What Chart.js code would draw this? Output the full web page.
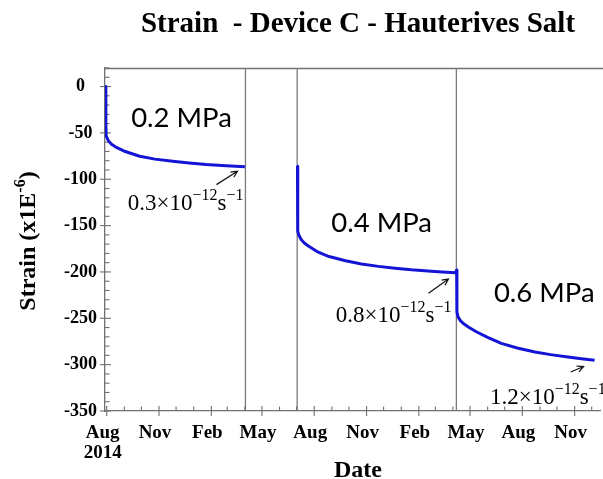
<!DOCTYPE html>
<html>
<head>
<meta charset="utf-8">
<title>Strain - Device C - Hauterives Salt</title>
<script src="https://cdn.jsdelivr.net/npm/chart.js@4.4.1/dist/chart.umd.min.js"></script>
<style>
    html, body { margin: 0; padding: 0; background: #ffffff; }
    #wrap { position: relative; width: 603px; height: 479px; }
</style>
</head>
<body>
<div id="wrap"><canvas id="strainChart"></canvas></div>
<script>
/* ---------------------------------------------------
   Creep strain record - Device C - Hauterives salt
   x values are days since 1 Aug 2014
---------------------------------------------------*/

// measured strain (x1E-6); null breaks the line while the device was unloaded
const elapsedDays = [
    -2, -1.5, -1, 1, 3, 8, 17, 30, 58, 85, 116, 145, 175, 210, 243,
    290,
    335.5, 336, 338, 342, 348, 356, 370, 391, 420, 448, 478, 507, 536, 565, 590, 614, 615.5,
    616, 618, 622, 628, 636, 650, 670, 694, 722, 753, 781, 811, 835, 858
];
const strainValues = [
    0, -40, -53, -56, -58.5, -62, -65.7, -69.5, -75.2, -78.3, -80.6, -82.5, -84.1, -85.4, -86.6,
    null,
    -86, -156, -160.5, -165, -169, -172.6, -178, -183.4, -188, -191.4, -194, -196, -197.7, -199, -200, -200.8, -198,
    -243, -248.5, -252.5, -256, -259.3, -264.5, -270.5, -277, -282, -286.3, -289.2, -291.7, -293.6, -295.3
];

// days at which the load was changed
const loadChangeDays = [244, 335, 615];

// stress levels and steady-state strain rates for each stage
const stressLabels = ["0.2 MPa", "0.4 MPa", "0.6 MPa"];
const rateMantissas = ["0.3", "0.8", "1.2"];

// x axis ticks
const tickDates = ["2014-08-01", "2014-11-01", "2015-02-01", "2015-05-01", "2015-08-01",
                   "2015-11-01", "2016-02-01", "2016-05-01", "2016-08-01", "2016-11-01"];
const tickLabels = [["Aug", "2014"], "Nov", "Feb", "May", "Aug", "Nov", "Feb", "May", "Aug", "Nov"];

// y axis ticks
const strainTicks = [0, -50, -100, -150, -200, -250, -300, -350];


/* ---------------------------------------------------
   Helpers
---------------------------------------------------*/

const DAY0 = Date.UTC(2014, 7, 1);

function daysSinceStart(dateStr) {
    const p = dateStr.split("-").map(Number);
    return Math.round((Date.UTC(p[0], p[1] - 1, p[2]) - DAY0) / 86400000);
}

const tickDays = tickDates.map(daysSinceStart);

// first day of every month on the axis, for the small ticks
let monthDays = [];
for (let m = 0; m <= 28; m++) {
    monthDays.push(Math.round((Date.UTC(2014, 7 + m, 1) - DAY0) / 86400000));
}

const SERIF = "'Liberation Serif', 'Times New Roman', serif";
const SANS = "Lato, 'Open Sans', sans-serif";
const AXIS_GREY = "#707070";

// draws text pieces left to right, raising the ones marked sup
function drawPieces(ctx, pieces, x, y, size, supSize, weight) {
    let cx = x;
    pieces.forEach(p => {
        ctx.font = weight + " " + (p.sup ? supSize : size) + "px " + SERIF;
        ctx.fillText(p.text, cx, p.sup ? y - size * 0.42 : y);
        cx += ctx.measureText(p.text).width;
    });
    return cx - x;
}

function measurePieces(ctx, pieces, size, supSize, weight) {
    let w = 0;
    pieces.forEach(p => {
        ctx.font = weight + " " + (p.sup ? supSize : size) + "px " + SERIF;
        w += ctx.measureText(p.text).width;
    });
    return w;
}

function drawArrow(ctx, x1, y1, x2, y2) {
    const a = Math.atan2(y2 - y1, x2 - x1);
    const head = 7;
    ctx.beginPath();
    ctx.moveTo(x1, y1);
    ctx.lineTo(x2, y2);
    ctx.moveTo(x2 - head * Math.cos(a - 0.45), y2 - head * Math.sin(a - 0.45));
    ctx.lineTo(x2, y2);
    ctx.lineTo(x2 - head * Math.cos(a + 0.45), y2 - head * Math.sin(a + 0.45));
    ctx.stroke();
}


/* ---------------------------------------------------
   Frame, load-change lines, tick marks and notes
---------------------------------------------------*/

// note anchors in data units (day, strain)
const stressNotes = [[43, -44], [395, -156.4], [681, -232]];
const rateNotes = [[37, -133], [403, -254], [674, -342]];
const rateArrows = [[193, -105.8, 230, -91.4], [566, -223, 601, -207.6], [816, -308, 838.7, -302]];

const strainDecor = {
    id: "strainDecor",

    beforeDatasetsDraw(chart) {
        const ctx = chart.ctx;
        const area = chart.chartArea;
        const xs = chart.scales.x;
        const ys = chart.scales.y;

        ctx.save();
        ctx.strokeStyle = AXIS_GREY;
        ctx.lineWidth = 1.3;

        // top edge of the frame
        ctx.beginPath();
        ctx.moveTo(area.left, area.top + 0.5);
        ctx.lineTo(chart.width, area.top + 0.5);
        ctx.stroke();

        // load changes
        ctx.strokeStyle = "#7a7a7a";
        loadChangeDays.forEach(d => {
            const px = xs.getPixelForValue(d);
            ctx.beginPath();
            ctx.moveTo(px, area.top);
            ctx.lineTo(px, area.bottom);
            ctx.stroke();
        });

        // y ticks: every 10 small, every 50 crossing the axis
        ctx.strokeStyle = AXIS_GREY;
        ctx.lineWidth = 1.1;
        for (let v = -350; v <= 20; v += 10) {
            const py = ys.getPixelForValue(v);
            const major = v % 50 === 0;
            ctx.beginPath();
            ctx.moveTo(area.left - (major ? 5 : 0), py);
            ctx.lineTo(area.left + (major ? 6 : 4.5), py);
            ctx.stroke();
        }

        // x ticks: every month small, every quarter crossing the axis
        monthDays.forEach(d => {
            const px = xs.getPixelForValue(d);
            if (px > chart.width) return;
            const major = tickDays.includes(d);
            ctx.beginPath();
            ctx.moveTo(px, area.bottom + (major ? 5 : 0));
            ctx.lineTo(px, area.bottom - (major ? 5 : 4.5));
            ctx.stroke();
        });

        ctx.restore();
    },

    afterDatasetsDraw(chart) {
        const ctx = chart.ctx;
        const xs = chart.scales.x;
        const ys = chart.scales.y;

        ctx.save();
        ctx.fillStyle = "#000";
        ctx.textBaseline = "alphabetic";
        ctx.textAlign = "left";

        // stress level of each stage
        ctx.font = "27.5px " + SANS;
        stressNotes.forEach((n, i) => {
            ctx.fillText(stressLabels[i], xs.getPixelForValue(n[0]), ys.getPixelForValue(n[1]));
        });

        // steady-state strain rates
        rateNotes.forEach((n, i) => {
            const pieces = [
                { text: rateMantissas[i] + "\u00d710" },
                { text: "\u221212", sup: true },
                { text: "s" },
                { text: "\u22121", sup: true }
            ];
            drawPieces(ctx, pieces, xs.getPixelForValue(n[0]), ys.getPixelForValue(n[1]), 23, 16, "normal");
        });

        ctx.strokeStyle = "#111";
        ctx.lineWidth = 1.2;
        rateArrows.forEach(a => {
            drawArrow(ctx,
                xs.getPixelForValue(a[0]), ys.getPixelForValue(a[1]),
                xs.getPixelForValue(a[2]), ys.getPixelForValue(a[3]));
        });

        ctx.restore();
    },

    afterDraw(chart) {
        const ctx = chart.ctx;
        const midX = 358;

        ctx.save();
        ctx.fillStyle = "#000";
        ctx.textAlign = "center";
        ctx.textBaseline = "alphabetic";

        // chart title
        ctx.font = "bold 29px " + SERIF;
        ctx.fillText("Strain  - Device C - Hauterives Salt", midX, 32);

        // x axis title
        ctx.font = "bold 24px " + SERIF;
        ctx.fillText("Date", midX, 477);

        // y axis title with superscript
        const pieces = [
            { text: "Strain (x1E" },
            { text: "-6", sup: true },
            { text: ")" }
        ];
        ctx.translate(35, 241);
        ctx.rotate(-Math.PI / 2);
        ctx.textAlign = "left";
        const w = measurePieces(ctx, pieces, 24, 16, "bold");
        drawPieces(ctx, pieces, -w / 2, 0, 24, 16, "bold");

        ctx.restore();
    }
};


/* ---------------------------------------------------
   Chart
---------------------------------------------------*/

function renderStrainChart() {

    const points = elapsedDays.map((d, i) => ({ x: d, y: strainValues[i] }));

    const tickFont = { family: SERIF, weight: "bold", size: 19, lineHeight: 1.05 };

    new Chart(document.getElementById("strainChart"), {
        type: "line",
        data: {
            datasets: [{
                label: "Strain",
                data: points,
                borderColor: "#1414d6",
                borderWidth: 3,
                borderJoinStyle: "round",
                pointRadius: 0,
                tension: 0,
                spanGaps: false,
                fill: false
            }]
        },
        options: {
            responsive: true,
            maintainAspectRatio: false,
            animation: false,
            layout: { padding: { top: 68, left: 0, right: 0, bottom: 0 } },
            plugins: {
                legend: { display: false },
                title: { display: false },
                tooltip: { enabled: false }
            },
            scales: {
                x: {
                    type: "linear",
                    min: -3,
                    max: 869,
                    afterBuildTicks: scale => {
                        scale.ticks = tickDays.map(v => ({ value: v }));
                    },
                    afterFit: scale => { scale.height = 68; },
                    grid: { display: false, drawTicks: false },
                    border: { display: true, color: AXIS_GREY, width: 1.3 },
                    ticks: {
                        autoSkip: false,
                        maxRotation: 0,
                        padding: 12,
                        labelOffset: -4,
                        color: "#000",
                        font: tickFont,
                        callback: (value, index) => tickLabels[index]
                    }
                },
                y: {
                    type: "linear",
                    min: -350,
                    max: 20,
                    afterBuildTicks: scale => {
                        scale.ticks = strainTicks.map(v => ({ value: v }));
                    },
                    afterFit: scale => { scale.width = 105; },
                    grid: { display: false, drawTicks: false },
                    border: { display: true, color: AXIS_GREY, width: 1.3 },
                    ticks: {
                        padding: 8,
                        crossAlign: "center",
                        color: "#000",
                        font: { family: SERIF, weight: "bold", size: 18 }
                    }
                }
            }
        },
        plugins: [strainDecor]
    });

}

window.onload = function () {

    renderStrainChart();

};
</script>
</body>
</html>
